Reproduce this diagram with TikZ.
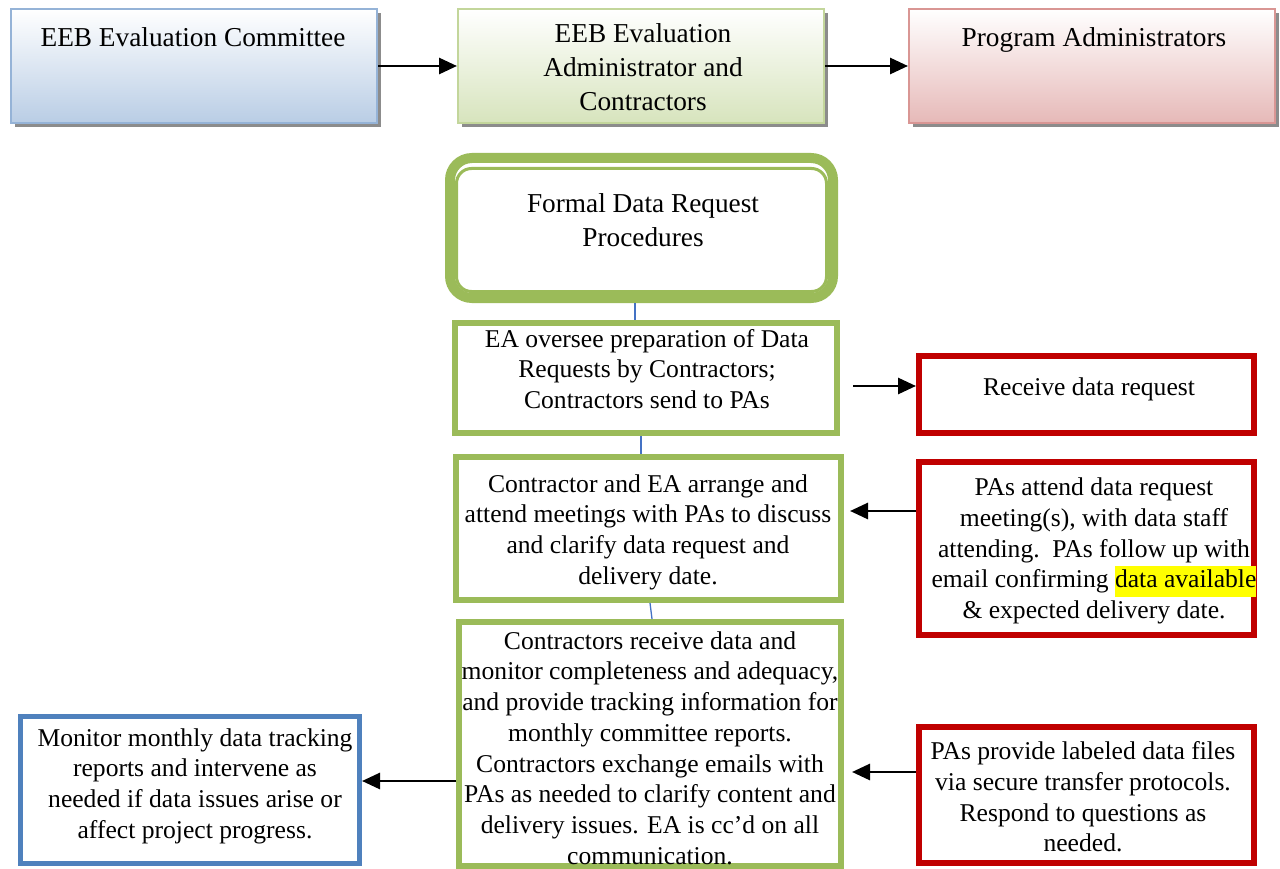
\documentclass[tikz,border=0pt]{standalone}
\usepackage{fontspec}
\setmainfont{Liberation Serif}
\usetikzlibrary{arrows.meta,shadows}
\definecolor{gborder}{HTML}{9BBB59}
\definecolor{rborder}{HTML}{C00000}
\definecolor{bborder}{HTML}{4F81BD}
\definecolor{linkblue}{HTML}{4472C4}
\definecolor{h1draw}{HTML}{95B3D7}
\definecolor{h1fill}{HTML}{B9CDE5}
\definecolor{h2draw}{HTML}{C3D69B}
\definecolor{h2fill}{HTML}{D7E4BD}
\definecolor{h3draw}{HTML}{D99694}
\definecolor{h3fill}{HTML}{E6B9B8}
\definecolor{hilite}{HTML}{FFFF00}
\newcommand{\bodyfont}{\fontsize{25.6}{30.7}\selectfont}
\newcommand{\headfont}{\fontsize{27.3}{34}\selectfont}
\newcommand{\hl}[1]{{\setlength{\fboxsep}{0pt}\colorbox{hilite}{\strut #1}}}
\tikzset{
  hbox/.style={rectangle, minimum width=366pt, minimum height=114pt, line width=2pt, inner sep=0pt,
    drop shadow={shadow xshift=4pt, shadow yshift=-4pt, fill=black, opacity=0.45}},
  htext/.style={align=center, font=\headfont, inner sep=0pt},
  btext/.style={align=center, font=\bodyfont, inner sep=0pt},
  gbox/.style={rectangle, draw=gborder, line width=6pt, fill=white, inner sep=0pt},
  rbox/.style={rectangle, draw=rborder, line width=6pt, fill=white, inner sep=0pt},
  bbox/.style={rectangle, draw=bborder, line width=5pt, fill=white, inner sep=0pt},
  arr/.style={-{Triangle[length=18pt,width=16pt]}, line width=2.8pt, draw=black},
  link/.style={draw=linkblue, line width=1.3pt}
}
\begin{document}
\begin{tikzpicture}[x=1pt,y=-1pt]
\useasboundingbox (0,0) rectangle (1280,869);
% header boxes
\node[hbox, draw=h1draw, top color=white, middle color=h1fill!55, bottom color=h1fill] (h1) at (194,66) {};
\node[hbox, draw=h2draw, top color=white, middle color=h2fill!55, bottom color=h2fill] (h2) at (641,66) {};
\node[hbox, draw=h3draw, top color=white, middle color=h3fill!55, bottom color=h3fill] (h3) at (1092,66) {};
\node[htext] (h1t) at (193,37) {EEB Evaluation Committee};
\node[htext] (h2t) at (643,67.5) {EEB Evaluation\\Administrator and\\Contractors};
\node[htext] (h3t) at (1094,39.5) {Program Administrators};
\draw[arr] (h1.east) -- (h2.west);
\draw[arr] (h2.east) -- (h3.west);
% formal box
\node[rectangle, draw=gborder, line width=10pt, rounded corners=22pt, minimum width=383pt, minimum height=140pt, inner sep=0pt] (formal) at (641.5,228) {};
\node[rectangle, draw=gborder, line width=3pt, rounded corners=15pt, minimum width=370pt, minimum height=123pt, inner sep=0pt] (formalin) at (641.5,230) {};
\node[htext] (formalt) at (643,220) {Formal Data Request\\Procedures};
% green column
\node[gbox, minimum width=382pt, minimum height=110pt] (ea) at (646,378) {};
\node[btext] (eat) at (647,369) {EA oversee preparation of Data\\Requests by Contractors;\\Contractors send to PAs};
\node[gbox, minimum width=385pt, minimum height=143pt] (contr) at (648.5,528.5) {};
\node[btext] (contrt) at (648,532) {Contractor and EA arrange and\\attend meetings with PAs to discuss\\and clarify data request and\\delivery date.};
\node[gbox, minimum width=382pt, minimum height=244pt] (rec) at (650,744) {};
\node[btext] (rect) at (650,748) {Contractors receive data and\\monitor completeness and adequacy,\\and provide tracking information for\\monthly committee reports.\\Contractors exchange emails with\\PAs as needed to clarify content and\\delivery issues. EA is cc'd on all\\communication.};
% blue box
\node[bbox, minimum width=339pt, minimum height=147pt] (mon) at (190,790) {};
\node[btext] (mont) at (195,786) {Monitor monthly data tracking\\reports and intervene as\\needed if data issues arise or\\affect project progress.};
% red boxes
\node[rbox, minimum width=335pt, minimum height=77pt] (r1) at (1086.5,394.5) {};
\node[btext] (r1t) at (1089,389) {Receive data request};
\node[rbox, minimum width=335pt, minimum height=173pt] (r2) at (1086.5,548.5) {};
\node[btext] (r2t) at (1094,551) {PAs attend data request\\meeting(s), with data staff\\attending.\ \ PAs follow up with\\email confirming \hl{data available}\\\& expected delivery date.};
\node[rbox, minimum width=335pt, minimum height=136pt] (r3) at (1086.5,795) {};
\node[btext] (r3t) at (1083,797) {PAs provide labeled data files\\via secure transfer protocols.\\Respond to questions as\\needed.};
% thin links
\coordinate (x1) at (635,0);
\coordinate (x2) at (641,0);
\coordinate (x3) at (650,0);
\coordinate (x4) at (652,0);
\draw[link] (formal.south -| x1) -- (ea.north -| x1);
\draw[link] (ea.south -| x2) -- (contr.north -| x2);
\draw[link] (contr.south -| x3) -- (rec.north -| x4);
% arrows
\coordinate (a1) at (853,386);
\draw[arr] (a1) -- (r1.west |- a1);
\coordinate (a2) at (850,511);
\draw[arr] (r2.west |- a2) -- (a2);
\coordinate (a3) at (0,781);
\draw[arr] (rec.west |- a3) -- (mon.east |- a3);
\coordinate (a4) at (852,772);
\draw[arr] (r3.west |- a4) -- (a4);
\end{tikzpicture}
\end{document}
